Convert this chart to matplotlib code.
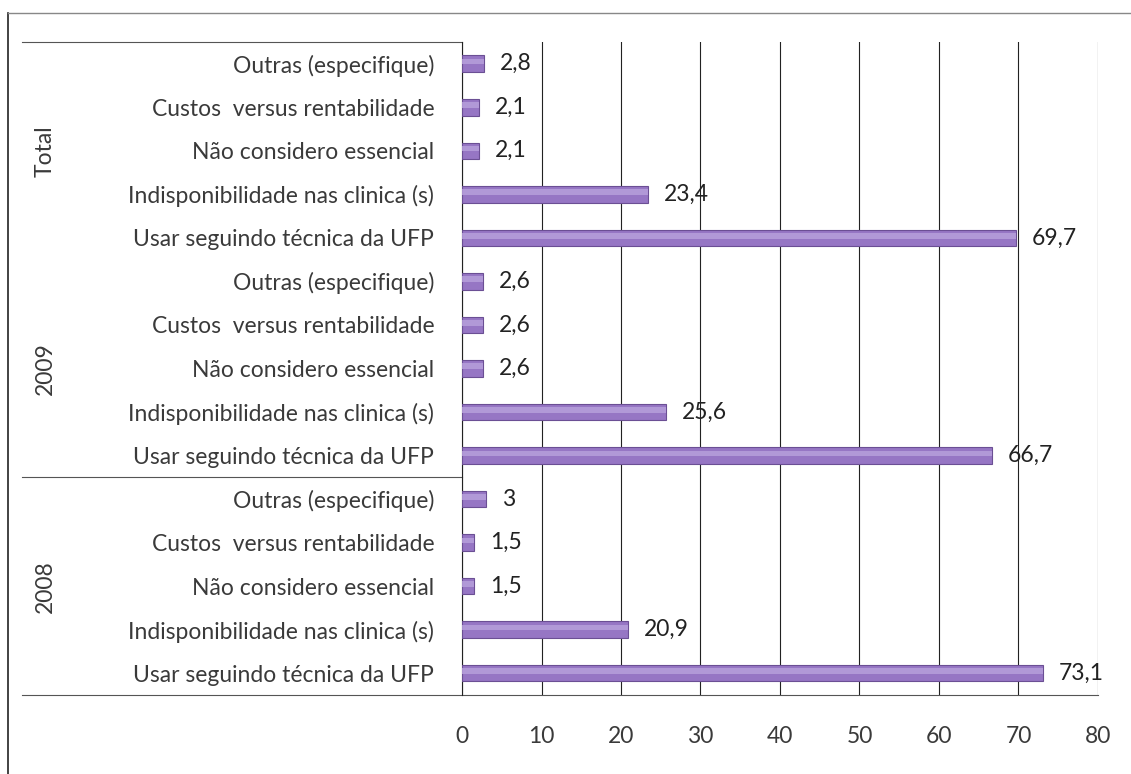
import numpy as np
import matplotlib.pyplot as plt
from matplotlib.lines import Line2D

# categories per group (bottom to top, as drawn)
reasons = ['Usar seguindo técnica da UFP',
           'Indisponibilidade nas clinica (s)',
           'Não considero essencial',
           'Custos  versus rentabilidade',
           'Outras (especifique)']
groups = ['2008', '2009', 'Total']

vals_2008 = [73.1, 20.9, 1.5, 1.5, 3]
vals_2009 = [66.7, 25.6, 2.6, 2.6, 2.6]
vals_total = [69.7, 23.4, 2.1, 2.1, 2.8]

values = vals_2008 + vals_2009 + vals_total
labels = reasons * 3
y = np.arange(len(values))

plt.rcParams['font.family'] = ['Lato', 'DejaVu Sans']
fs = 16.5
txt_col = '#3a3a3a'

fig = plt.figure(figsize=(11.31, 7.74), dpi=100)
ax = fig.add_axes([0.4085, 0.1021, 0.5623, 0.8437])

# bars with a soft highlight to mimic the 3D look
ax.barh(y, values, height=0.38, color='#9676c4', edgecolor='#6b4f94', linewidth=0.8, zorder=3)
ax.barh(y + 0.05, values, height=0.13, color='#b9a2dd', linewidth=0, alpha=0.8, zorder=4)

for yi, v in zip(y, values):
    ax.text(v + 2.0, yi, ('%g' % v).replace('.', ','), va='center', ha='left',
            fontsize=fs, color='#222222', zorder=5)

ax.set_xlim(0, 80)
ax.set_ylim(-0.5, len(values) - 0.5)
ax.set_xticks(np.arange(0, 81, 10))
ax.set_yticks(y)
ax.set_yticklabels(labels)
ax.tick_params(axis='y', length=0, pad=20, labelsize=fs, labelcolor=txt_col)
ax.tick_params(axis='x', length=0, pad=22, labelsize=fs, labelcolor=txt_col)
ax.grid(axis='x', color='#222222', linewidth=0.8, zorder=1)
for s in ['top', 'right', 'bottom']:
    ax.spines[s].set_visible(False)
ax.spines['left'].set_color('#222222')
ax.spines['left'].set_linewidth(0.8)

# group separators and bottom line
tr = ax.get_yaxis_transform()
x_start = (22 - 462) / 636
for yy, x_end in [(len(values) - 0.5, 0), (4.5, 0), (-0.5, 1)]:
    ax.add_line(Line2D([x_start, x_end], [yy, yy], transform=tr, color='#555555',
                       linewidth=0.8, clip_on=False))

# group labels
x_grp = (45 - 462) / 636
for i, g in enumerate(groups):
    ax.text(x_grp, i * 5 + 2, g, transform=tr, rotation=90, ha='center', va='center',
            fontsize=fs, color=txt_col)

# outer frame (left and top edges)
fig.add_artist(Line2D([8 / 1131, 8 / 1131], [0, 1 - 13 / 774], transform=fig.transFigure,
                      color='#222222', linewidth=1.2))
fig.add_artist(Line2D([8 / 1131, 1], [1 - 13 / 774, 1 - 13 / 774], transform=fig.transFigure,
                      color='#888888', linewidth=1.0))

fig.savefig('out.png', dpi=100)
